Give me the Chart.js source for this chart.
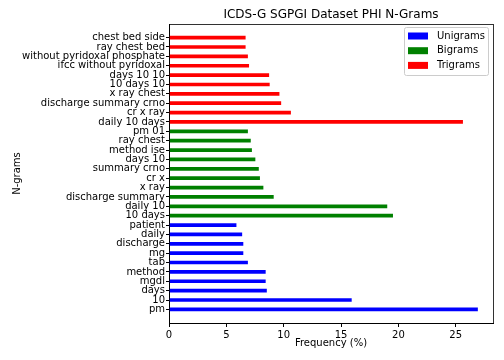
<!DOCTYPE html>
<html>
<head>
<meta charset="utf-8">
<script src="https://cdn.jsdelivr.net/npm/chart.js@4"></script>
<style>
  html, body { margin: 0; padding: 0; background: #fff; }
  #wrap { width: 504px; height: 360px; }
</style>
</head>
<body>
<div id="wrap"><canvas id="c" width="504" height="360"></canvas></div>
<script>
// datos, de abajo hacia arriba
const unigramLabels = ["pm", "10", "days", "mgdl", "method", "tab", "mg", "discharge", "daily", "patient"];
const unigramValues = [26.9, 15.9, 8.5, 8.4, 8.4, 6.85, 6.45, 6.45, 6.35, 5.85];

const bigramLabels = ["10 days", "daily 10", "discharge summary", "x ray", "cr x", "summary crno", "days 10", "method ise", "ray chest", "pm 01"];
const bigramValues = [19.5, 19.0, 9.1, 8.2, 7.9, 7.8, 7.5, 7.2, 7.1, 6.85];

const trigramLabels = ["daily 10 days", "cr x ray", "discharge summary crno", "x ray chest", "10 days 10", "days 10 10", "ifcc without pyridoxal", "without pyridoxal phosphate", "ray chest bed", "chest bed side"];
const trigramValues = [25.6, 10.6, 9.75, 9.6, 8.75, 8.7, 6.95, 6.85, 6.65, 6.65];

const xTicks = [0, 5, 10, 15, 20, 25];
const chartTitle = "ICDS-G SGPGI Dataset PHI N-Grams";

const allLabels = [...unigramLabels, ...bigramLabels, ...trigramLabels];

function toPoints(values, offset) {
  return values.map((v, i) => ({ x: v, y: offset + i }));
}

const FONT = "'DejaVu Sans', sans-serif";
Chart.defaults.color = "#000";
Chart.defaults.font.family = FONT;
Chart.defaults.font.size = 10;

// Plugin: marco completo (estilo matplotlib), titulo centrado sobre el area y leyenda dentro
const frameAndLegend = {
  id: "frameAndLegend",
  afterDraw(c) {
    const ctx = c.ctx;
    const a = c.chartArea;
    ctx.save();
    ctx.strokeStyle = "#000";
    ctx.lineWidth = 0.8;
    ctx.strokeRect(Math.round(a.left) + 0.5, Math.round(a.top) + 0.5, Math.round(a.right - a.left), Math.round(a.bottom - a.top));

    // titulo
    ctx.fillStyle = "#000";
    ctx.font = "12px " + FONT;
    ctx.textAlign = "center";
    ctx.textBaseline = "middle";
    ctx.fillText(chartTitle, (a.left + a.right) / 2, a.top - 9);

    // leyenda
    const bx = a.right - 89, by = a.top + 3, bw = 84, bh = 48;
    ctx.fillStyle = "rgba(255,255,255,0.8)";
    ctx.strokeStyle = "#cccccc";
    ctx.lineWidth = 1;
    ctx.beginPath();
    ctx.roundRect(bx + 0.5, by + 0.5, bw, bh, 2);
    ctx.fill();
    ctx.stroke();
    ctx.font = "10px " + FONT;
    ctx.textAlign = "left";
    c.data.datasets.forEach((ds, i) => {
      const yc = by + 9 + i * 14.7;
      ctx.fillStyle = ds.backgroundColor;
      ctx.fillRect(bx + 4, yc - 3.5, 20, 7);
      ctx.fillStyle = "#000";
      ctx.fillText(ds.label, bx + 33, yc);
    });
    ctx.restore();
  },
};

new Chart(document.getElementById("c").getContext("2d"), {
  type: "bar",
  data: {
    datasets: [
      { label: "Unigrams", data: toPoints(unigramValues, 0), backgroundColor: "#0000ff" },
      { label: "Bigrams", data: toPoints(bigramValues, unigramLabels.length), backgroundColor: "#008000" },
      { label: "Trigrams", data: toPoints(trigramValues, unigramLabels.length + bigramLabels.length), backgroundColor: "#ff0000" },
    ],
  },
  options: {
    indexAxis: "y",
    responsive: false,
    animation: false,
    layout: { padding: { left: 0, right: 11, top: 24, bottom: 11 } },
    datasets: { bar: { barThickness: 3, grouped: false } },
    scales: {
      x: {
        type: "linear",
        min: 0,
        max: 28.25,
        afterBuildTicks: (s) => { s.ticks = xTicks.map((v) => ({ value: v })); },
        afterFit: (s) => { s.height = 26; },
        grid: { display: true, drawOnChartArea: false, drawTicks: true, tickLength: 4, color: "#000" },
        border: { display: true, color: "#000" },
        ticks: { padding: 2, maxRotation: 0 },
        title: { display: true, text: "Frequency (%)", padding: { top: 0, bottom: 0 } },
      },
      y: {
        type: "linear",
        offset: false,
        min: -1.45,
        max: 30.45,
        afterBuildTicks: (s) => { s.ticks = allLabels.map((_, i) => ({ value: i })); },
        afterFit: (s) => { s.width = 169; },
        grid: { display: true, offset: false, drawOnChartArea: false, drawTicks: true, tickLength: 3, color: "#000" },
        border: { display: true, color: "#000" },
        ticks: { padding: 1, autoSkip: false, callback: (v) => allLabels[v] },
        title: { display: true, text: "N-grams", padding: { top: 11, bottom: 0 } },
      },
    },
    plugins: {
      legend: { display: false },
      tooltip: { enabled: false },
      title: { display: false },
    },
  },
  plugins: [frameAndLegend],
});
</script>
</body>
</html>
